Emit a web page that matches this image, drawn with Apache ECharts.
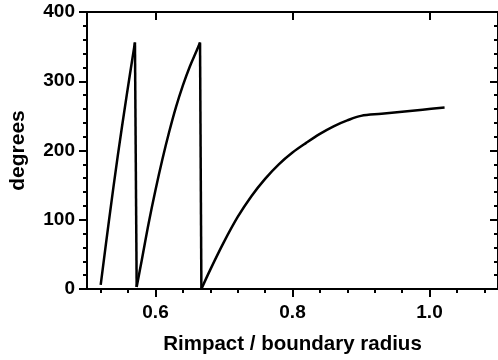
<!DOCTYPE html>
<html>
<head>
<meta charset="utf-8">
<title>Phase vs impact radius</title>
<script src="https://cdn.jsdelivr.net/npm/echarts@6/dist/echarts.min.js"></script>
<style>
  html, body { margin: 0; padding: 0; background: #fff; }
  #chart { width: 498px; height: 360px; }
</style>
</head>
<body>
<div id="chart"></div>
<script>
// Phase angle (degrees) against impact radius normalised by the boundary radius.
// Three rising branches; each wrap from ~360 back to 0 is drawn as a straight drop.
const radiusA  = [0.520, 0.5325, 0.545, 0.558, 0.570];
const degreesA = [6, 102, 193, 280, 356];

const radiusB  = [0.5725, 0.580, 0.590, 0.600, 0.610, 0.620, 0.630, 0.640, 0.650, 0.660, 0.665];
const degreesB = [3, 42, 95, 143, 187, 227, 263, 294, 321, 344, 356];

const radiusC  = [0.667, 0.680, 0.700, 0.720, 0.740, 0.760, 0.780, 0.800, 0.820, 0.840,
                  0.860, 0.880, 0.900, 0.930, 0.960, 0.990, 1.022];
const degreesC = [0, 28, 68, 104, 134, 159, 180, 197, 211, 224,
                  235, 243.5, 250, 253, 256, 259, 262];

// Tick positions along the horizontal axis
const xMajorTicks = [0.6, 0.8, 1.0];
const xMinorTicks = [0.52, 0.56, 0.64, 0.68, 0.72, 0.76, 0.84, 0.88, 0.92, 0.96, 1.04, 1.08];

const xMin = 0.5, xMax = 1.1;
const yMin = 0, yMax = 400, yStep = 100;

const black = '#000';
const fontFamily = '"Liberation Sans", Arial, Helvetica, sans-serif';
const axisLine = { show: true, onZero: false, lineStyle: { color: black, width: 2 } };
const curveStyle = { color: black, width: 2.5 };

function pairs(xs, ys) { return xs.map((x, i) => [x, ys[i]]); }
function first(xs, ys) { return [xs[0], ys[0]]; }
function last(xs, ys) { return [xs[xs.length - 1], ys[ys.length - 1]]; }

function xAxisDef(position, ticks, len, inside, withLine, extra) {
  return Object.assign({
    type: 'value', position: position, min: xMin, max: xMax,
    axisLine: withLine ? axisLine : { show: false },
    axisTick: { show: true, inside: inside, length: len, customValues: ticks,
                lineStyle: { color: black, width: 2 } },
    axisLabel: { show: false },
    splitLine: { show: false }
  }, extra || {});
}

function branch(data) {
  return { type: 'line', data: data, showSymbol: false, smooth: 0.35,
           lineStyle: curveStyle, z: 3 };
}
function drop(data) {
  return { type: 'line', data: data, showSymbol: false, smooth: false,
           lineStyle: curveStyle, z: 3 };
}

const chart = echarts.init(document.getElementById('chart'), null, { renderer: 'canvas' });
chart.setOption({
  animation: false,
  backgroundColor: '#fff',
  grid: { left: 83, top: 12, width: 416, height: 277 },
  xAxis: [
    xAxisDef('bottom', xMajorTicks, 8, false, true, {
      axisLabel: {
        show: true, customValues: xMajorTicks, margin: 14, color: black,
        fontSize: 19, fontWeight: 'bold', fontFamily: fontFamily,
        formatter: v => v.toFixed(1)
      },
      name: 'Rimpact / boundary radius', nameLocation: 'middle', nameGap: 45,
      nameTextStyle: { color: black, fontSize: 20.5, fontWeight: 'bold', fontFamily: fontFamily }
    }),
    xAxisDef('bottom', xMinorTicks, 4, false, false),
    xAxisDef('top', xMajorTicks, 8, true, true),
    xAxisDef('top', xMinorTicks, 4, true, false)
  ],
  yAxis: [
    {
      type: 'value', position: 'left', min: yMin, max: yMax, interval: yStep,
      axisLine: axisLine,
      axisTick: { show: true, inside: false, length: 8, lineStyle: { color: black, width: 2 } },
      minorTick: { show: true, splitNumber: 5, length: 4, lineStyle: { color: black, width: 2 } },
      axisLabel: { show: true, margin: 12, color: black, fontSize: 19, fontWeight: 'bold', fontFamily: fontFamily },
      splitLine: { show: false },
      name: 'degrees', nameLocation: 'middle', nameGap: 58,
      nameTextStyle: { color: black, fontSize: 21, fontWeight: 'bold', fontFamily: fontFamily }
    },
    {
      type: 'value', position: 'right', min: yMin, max: yMax, interval: yStep,
      axisLine: axisLine,
      axisTick: { show: true, inside: true, length: 8, lineStyle: { color: black, width: 2 } },
      minorTick: { show: true, splitNumber: 5, length: 4, lineStyle: { color: black, width: 2 } },
      axisLabel: { show: false },
      splitLine: { show: false }
    }
  ],
  series: [
    branch(pairs(radiusA, degreesA)),
    drop([last(radiusA, degreesA), first(radiusB, degreesB)]),
    branch(pairs(radiusB, degreesB)),
    drop([last(radiusB, degreesB), first(radiusC, degreesC)]),
    branch(pairs(radiusC, degreesC))
  ]
});
</script>
</body>
</html>
